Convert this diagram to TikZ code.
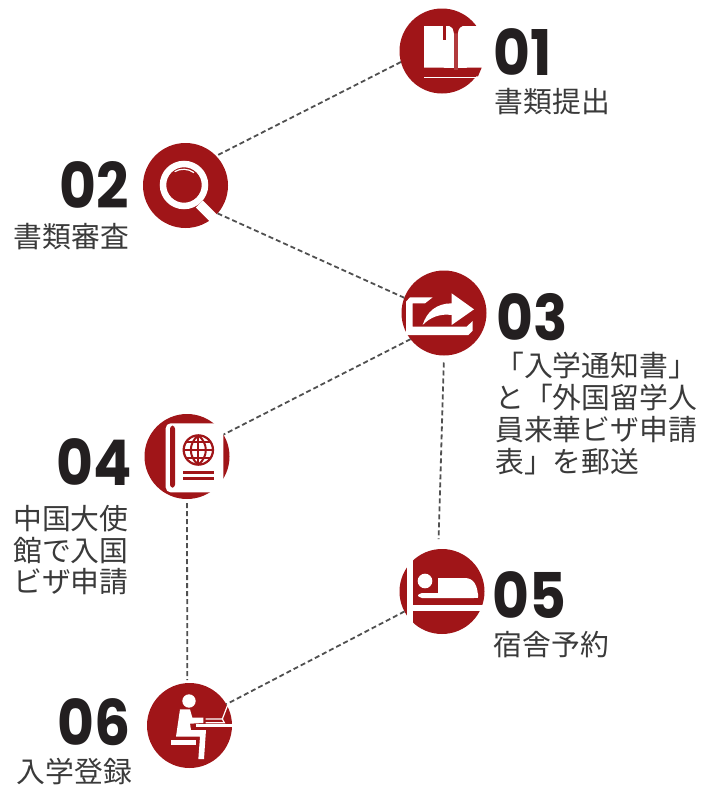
\documentclass[tikz,border=0pt]{standalone}
\usepackage{fontspec}
\setmainfont{Poppins}
\newfontfamily\cjk{Noto Sans CJK JP}[Scale=1]
\newfontfamily\numf{Poppins}[FakeStretch=0.9]
\definecolor{cred}{HTML}{A01518}
\definecolor{spine}{HTML}{B23A3D}
\definecolor{numc}{HTML}{231F20}
\definecolor{txtc}{HTML}{3A3A3A}
\definecolor{linec}{HTML}{505050}
\tikzset{
  disc/.style={circle,fill=cred,minimum size=85pt,inner sep=0pt,outer sep=0pt},
  numlabel/.style={font=\numf\bfseries\fontsize{63}{63}\selectfont,text=numc,inner sep=0pt},
  captext/.style={font=\cjk\fontsize{28.8}{32}\selectfont,text=txtc,inner sep=0pt},
  link/.style={draw=linec,line width=1.8pt,dash pattern=on 5pt off 3pt},
  wl/.style={draw=white,line width=#1},
  icon/.style={x=0.33333pt,y=-0.33333pt}
}
\begin{document}
\begin{tikzpicture}[x=1pt,y=-1pt]
\useasboundingbox (0,0) rectangle (718,787);
\node[disc] (n1) at (442,51) {};
\node[disc] (n2) at (185.5,185.5) {};
\node[disc] (n3) at (444,313) {};
\node[disc] (n4) at (187,456.5) {};
\node[disc] (n5) at (442,591.5) {};
\node[disc] (n6) at (189.5,725.5) {};
\draw[link] (n1.195) -- (n2.44);
\draw[link] (n2.-41) -- (n3.159);
\draw[link] (n3.218) -- (n4.31);
\draw[link,shorten >=10pt,shorten <=7pt] (n3.south) -- (n5.95);
\draw[link,shorten >=3pt,shorten <=4pt] (n4.south) -- (n6.93);
\draw[link] (n5.208) -- (n6.30);
% labels
\node[numlabel,anchor=base west] (t1) at (493,75) {01};
\node[captext,anchor=base west] (c1) at (494.5,112) {書類提出};
\node[numlabel,anchor=base east] (t2) at (129.5,208) {02};
\node[captext,anchor=base west] (c2) at (13.5,247) {書類審査};
\node[numlabel,anchor=base west] (t3) at (496,340) {03};
\node[captext,anchor=base west] (c3a) at (495,376) {「入学通知書」};
\node[captext,anchor=base west] (c3b) at (495,408) {と「外国留学人};
\node[captext,anchor=base west] (c3c) at (495,440) {員来華ビザ申請};
\node[captext,anchor=base west] (c3d) at (495,472) {表」を郵送};
\node[numlabel,anchor=base east] (t4) at (132,485) {04};
\node[captext,anchor=base west] (c4a) at (13,529) {中国大使};
\node[captext,anchor=base west] (c4b) at (13,561) {館で入国};
\node[captext,anchor=base west] (c4c) at (13,592) {ビザ申請};
\node[numlabel,anchor=base west] (t5) at (492.5,618) {05};
\node[captext,anchor=base west] (c5) at (493.5,655) {宿舎予約};
\node[numlabel,anchor=base east] (t6) at (130.5,745) {06};
\node[captext,anchor=base west] (c6) at (16.5,782) {入学登録};
% icon 01
\begin{scope}[shift={(380pt,0pt)},icon]
\fill[white] (132,78) rectangle (315,205);
\fill[spine] (222,92) rectangle (233,210);
\fill[cred] (222,100) .. controls (222,90) and (218,82) .. (208,78) -- (248,78) .. controls (238,82) and (233,90) .. (233,100) -- cycle;
\fill[cred] (188,78) rectangle (198,120);
\fill[cred] (132,203) -- (190,203) -- (226,220) -- (262,203) -- (305,203) -- (294,229) -- (132,229) -- cycle;
\draw[wl=0.9pt] (132,232) -- (292,232);
\end{scope}
% icon 02
\begin{scope}[shift={(130pt,-130pt)},icon]
\draw[white,line width=6.5pt] (162,165) circle (63);
\draw[white,line width=10pt] (208,222) -- (256,270);
\draw[white,line width=1.2pt] (134,125) .. controls (150,115) and (175,115) .. (192,128);
\end{scope}
% icon 03
\begin{scope}[shift={(390pt,-260pt)},icon]
\fill[white] (128,112) -- (60,112) -- (48,125) -- (48,225) -- (235,225) -- (248,212) -- (248,183) -- (230,200) -- (68,200) -- (68,130) -- (105,130) -- cycle;
\fill[white] (98,195) .. controls (110,155) and (140,130) .. (185,130) -- (185,100) -- (252,148) -- (185,195) -- (185,165) .. controls (150,160) and (120,172) .. (98,195) -- cycle;
\end{scope}
% icon 04
\begin{scope}[shift={(135pt,-405pt)},icon]
\fill[white,rounded corners=5pt] (92,55) -- (265,55) -- (265,262) -- (92,262) -- cycle;
\fill[cred,rounded corners=3pt] (105,62) rectangle (120,248);
\draw[cred,line width=2.2pt] (190,135) circle (44);
\draw[cred,line width=2pt] (190,91) .. controls (160,115) and (160,155) .. (190,179);
\draw[cred,line width=2pt] (190,91) .. controls (220,115) and (220,155) .. (190,179);
\draw[cred,line width=2pt] (190,91) -- (190,179);
\draw[cred,line width=2pt] (146,135) -- (234,135);
\draw[cred,line width=1.8pt] (155,112) -- (225,112);
\draw[cred,line width=1.8pt] (155,158) -- (225,158);
\draw[cred,line width=2.5pt] (145,203) -- (238,203);
\draw[cred,line width=2.5pt] (145,220) -- (238,220);
\end{scope}
% icon 05
\begin{scope}[shift={(390pt,-540pt)},icon]
\fill[white] (50,20) rectangle (70,295);
\fill[white] (50,195) rectangle (300,213);
\fill[white,rounded corners=4pt] (84,159) rectangle (264,174);
\fill[white] (144,165) -- (144,114) -- (225,114) .. controls (250,114) and (264,135) .. (264,174) -- cycle;
\fill[white] (105,123) circle (22);
\end{scope}
% icon 06
\begin{scope}[shift={(135pt,-675pt)},icon]
\fill[white] (162,78) circle (20);
\fill[white] (135,103) -- (165,103) -- (172,128) -- (205,128) -- (205,144) -- (165,146) -- (168,165) -- (213,165) -- (207,252) -- (190,252) -- (195,185) -- (123,185) -- cycle;
\fill[white] (108,195) rectangle (182,210);
\fill[white] (182,148) rectangle (295,157);
\draw[wl=1.2pt] (212,132) -- (262,132) -- (280,85);
\draw[wl=1.2pt] (212,143) -- (268,143) -- (262,132);
\end{scope}
\end{tikzpicture}
\end{document}
